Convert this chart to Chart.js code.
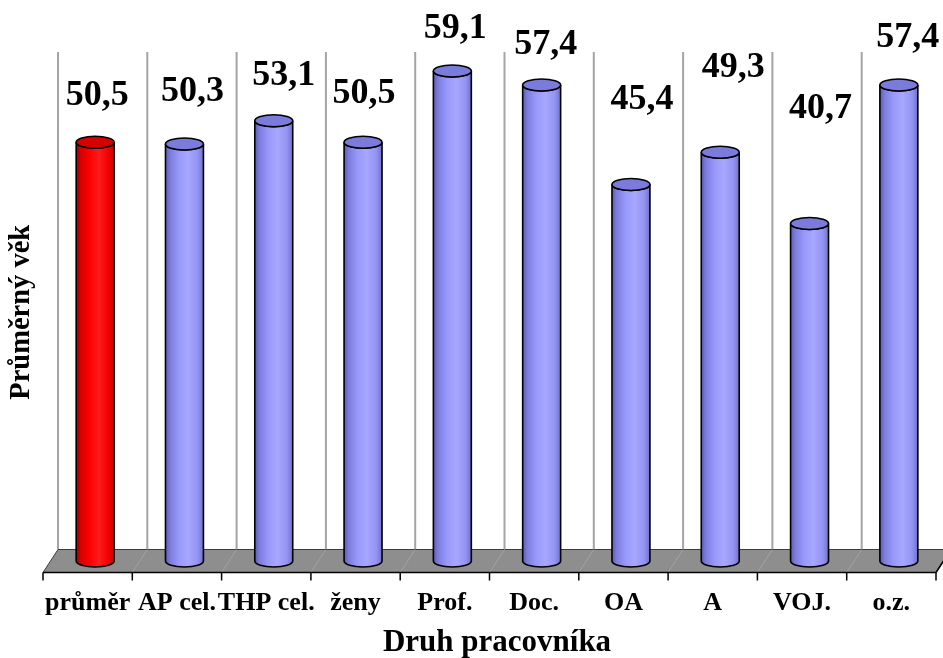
<!DOCTYPE html>
<html>
<head>
<meta charset="utf-8">
<script src="https://cdn.jsdelivr.net/npm/chart.js@4.4.1/dist/chart.umd.min.js"></script>
<style>
  html, body { margin: 0; padding: 0; background: #fff; overflow: hidden; }
  #wrap { position: relative; width: 960px; height: 658px; }
</style>
</head>
<body>
<div id="wrap"><canvas id="c"></canvas></div>
<script>
// Average age by staff category
const categories = ['průměr', 'AP cel.', 'THP cel.', 'ženy', 'Prof.', 'Doc.', 'OA', 'A', 'VOJ.', 'o.z.'];
const averageAge = [50.5, 50.3, 53.1, 50.5, 59.1, 57.4, 45.4, 49.3, 40.7, 57.4];
const yRange = [0, 60];

// Layout of the value labels (px): horizontal nudge and lift above the cylinder top
const labelNudgeX = [2, 8, 10, 1, 3, 4, 11, 13, 11, 9];
const labelLift = [49, 55, 48, 51, 45, 43, 88, 87, 118, 50];

const FONT = '"Liberation Serif", "Times New Roman", serif';
const DEPTH_X = 7.5;   // half depth of the 3D box, horizontal
const DEPTH_Y = 11.5;  // half depth of the 3D box, vertical
const CAP_RY = 6;      // vertical radius of the cylinder ellipses

const palette = {
  blue: {
    stops: [[0, '#5a5ab6'], [0.12, '#7c7cdc'], [0.35, '#9898fb'], [0.6, '#a7a7ff'], [0.85, '#9393f2'], [1, '#7070cc']],
    cap: '#7b7bdb'
  },
  red: {
    stops: [[0, '#a00000'], [0.12, '#d80000'], [0.35, '#ff0000'], [0.6, '#ff1c1c'], [0.85, '#f20000'], [1, '#c40000']],
    cap: '#d60000'
  }
};

const scene3d = {
  id: 'scene3d',
  beforeDatasetsDraw(chart) {
    const { ctx, chartArea: { top, bottom }, scales: { x } } = chart;
    const n = categories.length;
    const step = x.getPixelForValue(1) - x.getPixelForValue(0);
    const edge = k => x.getPixelForValue(0) - step / 2 + k * step;
    ctx.save();
    // back wall grid lines at category boundaries
    ctx.strokeStyle = '#a4a4a4';
    ctx.lineWidth = 2;
    for (let k = 0; k <= n; k++) {
      const bx = edge(k) + DEPTH_X;
      ctx.beginPath();
      ctx.moveTo(bx, top - DEPTH_Y);
      ctx.lineTo(bx, bottom - DEPTH_Y);
      ctx.stroke();
    }
    // floor
    const fl = edge(0), fr = edge(n);
    ctx.beginPath();
    ctx.moveTo(fl - DEPTH_X, bottom + DEPTH_Y);
    ctx.lineTo(fr - DEPTH_X, bottom + DEPTH_Y);
    ctx.lineTo(fr + DEPTH_X, bottom - DEPTH_Y);
    ctx.lineTo(fl + DEPTH_X, bottom - DEPTH_Y);
    ctx.closePath();
    ctx.fillStyle = '#8e8e8e';
    ctx.fill();
    ctx.strokeStyle = '#3c3c3c';
    ctx.lineWidth = 1;
    ctx.stroke();
    // floor grid lines
    ctx.strokeStyle = '#a2a2a2';
    ctx.lineWidth = 1;
    for (let k = 1; k < n; k++) {
      ctx.beginPath();
      ctx.moveTo(edge(k) - DEPTH_X, bottom + DEPTH_Y);
      ctx.lineTo(edge(k) + DEPTH_X, bottom - DEPTH_Y);
      ctx.stroke();
    }
    // front edge and tick marks
    ctx.strokeStyle = '#000';
    ctx.lineWidth = 1.5;
    ctx.beginPath();
    ctx.moveTo(fl - DEPTH_X, bottom + DEPTH_Y);
    ctx.lineTo(fr - DEPTH_X, bottom + DEPTH_Y);
    ctx.moveTo(fr - DEPTH_X, bottom + DEPTH_Y);
    ctx.lineTo(fr + DEPTH_X, bottom - DEPTH_Y);
    for (let k = 0; k <= n; k++) {
      const tx = edge(k) - DEPTH_X;
      ctx.moveTo(tx, bottom + DEPTH_Y);
      ctx.lineTo(tx, bottom + DEPTH_Y + 8);
    }
    ctx.stroke();
    ctx.restore();
  },
  afterDatasetsDraw(chart) {
    const { ctx } = chart;
    const meta = chart.getDatasetMeta(0);
    ctx.save();
    meta.data.forEach((bar, i) => {
      const { x, y, base, width } = bar.getProps(['x', 'y', 'base', 'width'], true);
      const rx = width / 2;
      const look = i === 0 ? palette.red : palette.blue;
      const grad = ctx.createLinearGradient(x - rx, 0, x + rx, 0);
      look.stops.forEach(([o, c]) => grad.addColorStop(o, c));
      // body
      ctx.beginPath();
      ctx.moveTo(x - rx, y);
      ctx.lineTo(x - rx, base);
      ctx.ellipse(x, base, rx, CAP_RY, 0, Math.PI, 0, true);
      ctx.lineTo(x + rx, y);
      ctx.ellipse(x, y, rx, CAP_RY, 0, 0, Math.PI, false);
      ctx.closePath();
      ctx.fillStyle = grad;
      ctx.fill();
      ctx.strokeStyle = '#000';
      ctx.lineWidth = 1.6;
      ctx.stroke();
      // top cap
      ctx.beginPath();
      ctx.ellipse(x, y, rx, CAP_RY, 0, 0, Math.PI * 2);
      ctx.fillStyle = look.cap;
      ctx.fill();
      ctx.stroke();
      // value label
      ctx.font = 'bold 36px ' + FONT;
      ctx.fillStyle = '#000';
      ctx.textAlign = 'center';
      ctx.textBaseline = 'alphabetic';
      const txt = averageAge[i].toFixed(1).replace('.', ',');
      ctx.fillText(txt, x + labelNudgeX[i], y - labelLift[i] + 12);
    });
    ctx.restore();
  }
};

new Chart(document.getElementById('c'), {
  type: 'bar',
  data: {
    labels: categories,
    datasets: [{
      data: averageAge,
      backgroundColor: 'rgba(0,0,0,0)',
      borderWidth: 0,
      categoryPercentage: 1,
      barPercentage: 0.425
    }]
  },
  options: {
    responsive: true,
    maintainAspectRatio: false,
    animation: false,
    events: [],
    layout: { padding: { left: 2, right: 16.5, top: 63.5, bottom: 0 } },
    plugins: { legend: { display: false }, tooltip: { enabled: false } },
    scales: {
      x: {
        grid: { display: false, drawTicks: false },
        border: { display: false },
        ticks: {
          autoSkip: false, maxRotation: 0, minRotation: 0,
          padding: 26.4, labelOffset: -DEPTH_X, color: '#000',
          font: { family: FONT, size: 26, weight: 'bold', lineHeight: 1.2 }
        },
        title: {
          display: true, text: 'Druh pracovníka', color: '#000',
          font: { family: FONT, size: 31, weight: 'bold', lineHeight: 1.05 },
          padding: { top: -18.75, bottom: -0.8 }
        }
      },
      y: {
        min: yRange[0], max: yRange[1],
        grid: { display: false, drawTicks: false },
        border: { display: false },
        ticks: { display: false },
        title: {
          display: true, text: 'Průměrný věk', color: '#000',
          font: { family: FONT, size: 28.5, weight: 'bold', lineHeight: 1.2 },
          padding: { top: 2.9, bottom: 11.4 }
        }
      }
    }
  },
  plugins: [scene3d]
});
</script>
</body>
</html>
